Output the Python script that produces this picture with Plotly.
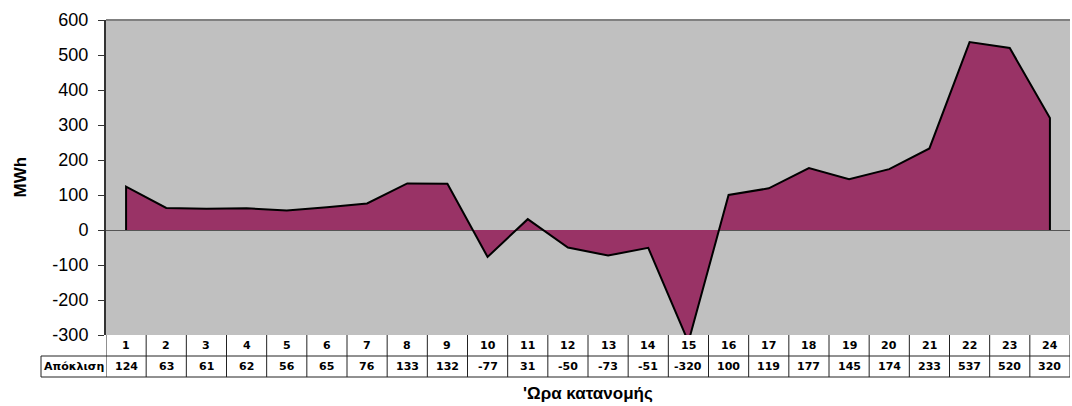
import plotly.graph_objects as go

hours = list(range(1, 25))
deviation = [124, 63, 61, 62, 56, 65, 76, 133, 132, -77, 31, -50, -73, -51,
             -320, 100, 119, 177, 145, 174, 233, 537, 520, 320]
row_label = "Απόκλιση"
y_title = "MWh"
x_title = "'Ωρα κατανομής"
y_ticks = list(range(-300, 700, 100))
y_tick_text = [str(v) for v in y_ticks]

W, H = 1072, 406
ML, MR, MT, MB = 106, 2, 20, 71
PH = H - MT - MB
PW = W - ML - MR


def py(pix):
    """pixel y (from top) -> paper y"""
    return (H - MB - pix) / PH


def px(pix):
    return (pix - ML) / PW


fig = go.Figure()
fig.add_trace(go.Scatter(
    x=[hours[0]] + hours + [hours[-1]],
    y=[0] + deviation + [0],
    mode="lines",
    fill="toself",
    fillcolor="#993366",
    line=dict(color="black", width=2),
    hoverinfo="skip",
    showlegend=False,
))

shapes = []
annotations = []
line_col = "#222222"
r0, r1, r2 = H - MB, H - MB + 21, H - MB + 42
shapes.append(dict(type="line", xref="paper", yref="paper", x0=px(41), x1=1,
                   y0=py(r1), y1=py(r1), line=dict(color=line_col, width=1)))
shapes.append(dict(type="line", xref="paper", yref="paper", x0=px(41), x1=1,
                   y0=py(r2), y1=py(r2), line=dict(color=line_col, width=1)))
for i in range(len(hours) + 1):
    xv = 0.5 + i
    shapes.append(dict(type="line", xref="x", yref="paper", x0=xv, x1=xv,
                       y0=py(r0), y1=py(r2), line=dict(color=line_col, width=1)))
shapes.append(dict(type="line", xref="paper", yref="paper", x0=px(41), x1=px(41),
                   y0=py(r1), y1=py(r2), line=dict(color=line_col, width=1)))
shapes.append(dict(type="line", xref="paper", yref="paper", x0=0, x1=1,
                   y0=1, y1=1, line=dict(color="#808080", width=2)))

tfont = dict(family="DejaVu Sans", size=11, color="black", weight="bold")
for h, v in zip(hours, deviation):
    annotations.append(dict(x=h, y=py((r0 + r1) / 2), xref="x", yref="paper",
                            text=str(h), showarrow=False, font=tfont,
                            xanchor="center", yanchor="middle"))
    annotations.append(dict(x=h, y=py((r1 + r2) / 2), xref="x", yref="paper",
                            text=str(v), showarrow=False, font=tfont,
                            xanchor="center", yanchor="middle"))
annotations.append(dict(x=px(42), y=py((r1 + r2) / 2), xref="paper", yref="paper",
                        text=row_label, showarrow=False, font=tfont,
                        xanchor="left", yanchor="middle"))
annotations.append(dict(x=px(20), y=py((MT + H - MB) / 2), xref="paper", yref="paper",
                        text=y_title, showarrow=False, textangle=-90,
                        font=dict(family="Liberation Sans", size=17, color="black", weight="bold"),
                        xanchor="center", yanchor="middle"))
annotations.append(dict(x=px(588), y=py(393), xref="paper", yref="paper",
                        text=x_title, showarrow=False,
                        font=dict(family="Liberation Sans", size=17, color="black", weight="bold"),
                        xanchor="center", yanchor="middle"))

fig.update_layout(
    width=W, height=H,
    margin=dict(l=ML, r=MR, t=MT, b=MB),
    paper_bgcolor="white",
    plot_bgcolor="#C0C0C0",
    shapes=shapes,
    annotations=annotations,
    xaxis=dict(range=[0.5, 24.5], showgrid=False, zeroline=False,
               showticklabels=False, showline=False, ticks=""),
    yaxis=dict(range=[-300, 600], tickvals=y_ticks, ticktext=y_tick_text,
               showgrid=False,
               zeroline=True, zerolinecolor="#555555", zerolinewidth=1,
               showline=True, linecolor="#333333", linewidth=2,
               ticks="outside", ticklen=6, tickcolor="#333333", tickwidth=1,
               ticklabelstandoff=6,
               tickfont=dict(family="Liberation Sans", size=18, color="black")),
)

fig.write_html("out.html",
               config={"displayModeBar": False},
               post_script="document.body.style.margin='0';document.body.style.overflow='hidden';")
